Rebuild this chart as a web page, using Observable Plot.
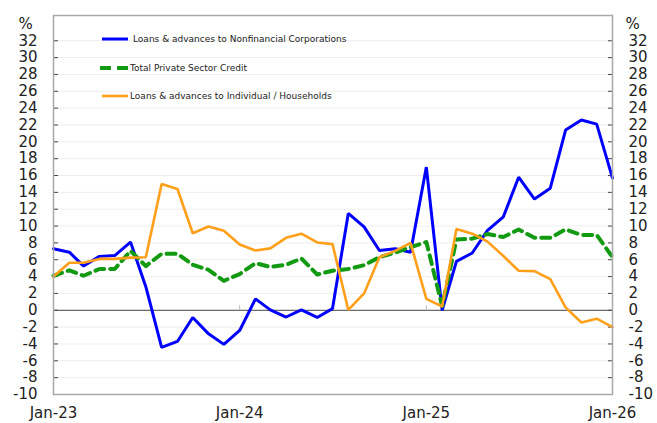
<!DOCTYPE html>
<html>
<head>
<meta charset="utf-8">
<script src="https://cdn.jsdelivr.net/npm/d3@7"></script>
<script src="https://cdn.jsdelivr.net/npm/@observablehq/plot@0.6"></script>
<style>
  html, body { margin: 0; padding: 0; background: #fff; }
  #wrap { position: relative; width: 657px; height: 423px; font-family: "DejaVu Sans", sans-serif; }
  #legend { position: absolute; left: 0; top: 0; font-size: 9px; color: #222; }
  .item { position: absolute; display: flex; align-items: center; white-space: nowrap; }
  .item svg { display: block; }
</style>
</head>
<body>
<div id="wrap"></div>
<script>
// Monthly, Jan-23 .. Jan-26 (37 months)
const startYear = 2023, startMonth = 0, monthCount = 37;
const seriesNames = [
  "Loans & advances to Nonfinancial Corporations",
  "Total Private Sector Credit",
  "Loans & advances to Individual / Households"
];
const seriesColors = ["#0000ff", "#139a13", "#ff9f1a"];

const corporations = [7.3, 6.9, 5.25, 6.4, 6.5, 8.1, 2.8, -4.4, -3.7, -0.85,
  -2.8, -4.05, -2.4, 1.35, 0.05, -0.8, 0.05, -0.85, 0.2, 11.5,
  9.9, 7.1, 7.3, 6.9, 17.0, 0.0, 5.8, 6.8, 9.5, 11.1,
  15.8, 13.2, 14.5, 21.4, 22.6, 22.1, 15.7];
const totalPrivate = [4.1, 4.75, 4.1, 4.9, 4.9, 7.05, 5.25, 6.7, 6.7, 5.4,
  4.8, 3.5, 4.3, 5.6, 5.15, 5.4, 6.15, 4.25, 4.7, 4.9,
  5.35, 6.3, 6.85, 7.5, 8.1, 0.5, 8.4, 8.5, 9.05, 8.7,
  9.6, 8.6, 8.6, 9.6, 8.95, 8.95, 6.3];
const households = [4.0, 5.65, 5.65, 6.1, 6.1, 6.25, 6.3, 15.0, 14.4, 9.15,
  9.95, 9.45, 7.8, 7.1, 7.35, 8.6, 9.1, 8.05, 7.85, 0.05,
  2.0, 6.3, 7.05, 8.0, 1.35, 0.45, 9.65, 9.1, 8.15, 6.45,
  4.7, 4.65, 3.7, 0.35, -1.45, -1.0, -2.0];

const yTicks = d3.range(-10, 33, 2);
const xTickDates = [new Date(Date.UTC(2023,0,1)), new Date(Date.UTC(2024,0,1)), new Date(Date.UTC(2025,0,1)), new Date(Date.UTC(2026,0,1))];
const xTickLabels = ["Jan-23", "Jan-24", "Jan-25", "Jan-26"];

const months = d3.range(monthCount).map(i => new Date(Date.UTC(startYear, startMonth + i, 1)));
const toRows = (vals) => vals.map((v, i) => ({date: months[i], value: v}));
const rowsCorp = toRows(corporations);
const rowsTotal = toRows(totalPrivate);
const rowsHH = toRows(households);

const fmtX = d => xTickLabels[xTickDates.findIndex(t => +t === +d)];
const fmtY = d => String(d);

const chart = Plot.plot({
  width: 657,
  height: 423,
  marginLeft: 53,
  marginRight: 45,
  marginTop: 15,
  marginBottom: 29,
  style: {fontFamily: "DejaVu Sans, sans-serif", background: "#fff", color: "#222"},
  x: {type: "utc", domain: [months[0], months[monthCount - 1]]},
  y: {domain: [-10, 35]},
  marks: [
    Plot.gridY(yTicks, {stroke: "#eeeeee", strokeOpacity: 1}),
    Plot.ruleY([0], {stroke: "#6b6b6b", strokeWidth: 1.2}),
    Plot.ruleX(xTickDates, {x: d => d, y1: 0, y2: 0.55, stroke: "#bbbbbb"}),
    Plot.axisY(yTicks, {anchor: "left", tickSize: 0, tickPadding: 16, fontSize: 15, label: null, tickFormat: fmtY}),
    Plot.axisY(yTicks, {anchor: "right", tickSize: 0, tickPadding: 16, fontSize: 15, label: null, tickFormat: fmtY}),
    Plot.axisY(yTicks, {anchor: "left", tickSize: 5, dx: 5, tickFormat: () => "", label: null, stroke: "#444"}),
    Plot.axisY(yTicks, {anchor: "right", tickSize: 5, dx: -5, tickFormat: () => "", label: null, stroke: "#444"}),
    Plot.axisX(xTickDates, {anchor: "bottom", tickSize: 0, tickPadding: 13, fontSize: 15, tickFormat: fmtX, label: null}),
    Plot.text(["%"], {frameAnchor: "top-left", dx: -28, dy: 3, fontSize: 15, textAnchor: "middle"}),
    Plot.text(["%"], {frameAnchor: "top-right", dx: 20, dy: 3, fontSize: 15, textAnchor: "middle"}),
    Plot.line(rowsCorp, {x: "date", y: "value", stroke: seriesColors[0], strokeWidth: 3, strokeLinejoin: "miter"}),
    Plot.line(rowsTotal, {x: "date", y: "value", stroke: seriesColors[1], strokeWidth: 4, strokeDasharray: "9,6"}),
    Plot.line(rowsHH, {x: "date", y: "value", stroke: seriesColors[2], strokeWidth: 2.6, strokeLinejoin: "miter"}),
    Plot.frame({stroke: "#a8a8a8", strokeWidth: 1.5})
  ]
});

const wrap = document.getElementById("wrap");
wrap.appendChild(chart);

// Legend overlay (inside plot area, top-left)
const legend = document.createElement("div");
legend.id = "legend";
const legendItems = [
  {top: 39, left: 102, w: 26, gap: 5, dash: null, sw: 3},
  {top: 68, left: 100, w: 28, gap: 2, dash: "11,6", sw: 4},
  {top: 96, left: 102, w: 26, gap: 2, dash: null, sw: 2.6}
];
legendItems.forEach((it, i) => {
  const d = document.createElement("div");
  d.className = "item";
  d.style.left = it.left + "px";
  d.style.top = (it.top - 7) + "px";
  d.style.height = "14px";
  d.innerHTML = `<svg width="${it.w}" height="14"><line x1="0" x2="${it.w}" y1="7" y2="7" stroke="${seriesColors[i]}" stroke-width="${it.sw}" ${it.dash ? `stroke-dasharray="${it.dash}"` : ""}/></svg><span style="margin-left:${it.gap}px">${seriesNames[i]}</span>`;
  legend.appendChild(d);
});
wrap.appendChild(legend);
</script>
</body>
</html>
